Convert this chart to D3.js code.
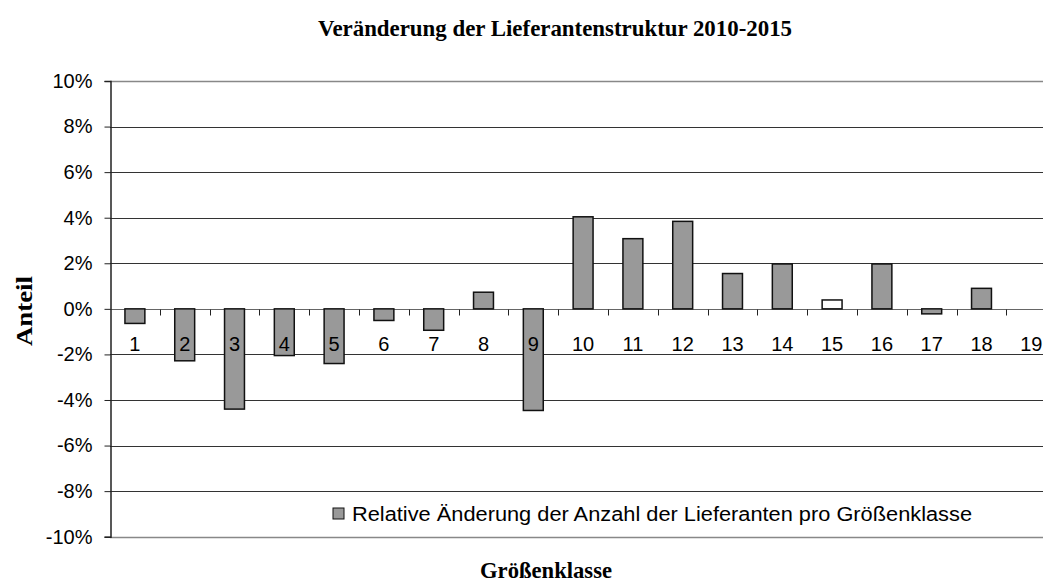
<!DOCTYPE html>
<html>
<head>
<meta charset="utf-8">
<script src="https://cdn.jsdelivr.net/npm/d3@7"></script>
<style>
  body { margin: 0; background: #fff; }
  svg { display: block; }
</style>
</head>
<body>
<script>
// data
var classes = ["1","2","3","4","5","6","7","8","9","10","11","12","13","14","15","16","17","18","19"];
var changes = [-0.64, -2.28, -4.40, -2.05, -2.40, -0.51, -0.94, 0.73, -4.46, 4.04, 3.08, 3.84, 1.55, 1.97, 0.39, 1.97, -0.22, 0.90, 0];
var barFills = ["#999","#999","#999","#999","#999","#999","#999","#999","#999","#999","#999","#999","#999","#999","#fff","#999","#999","#999","#999"];
var yTicks = [-10, -8, -6, -4, -2, 0, 2, 4, 6, 8, 10];

var title = "Veränderung der Lieferantenstruktur 2010-2015";
var xTitle = "Größenklasse";
var yTitle = "Anteil";
var legendLabel = "Relative Änderung der Anzahl der Lieferanten pro Größenklasse";

var W = 1043, H = 587;
var plotLeft = 110, plotTop = 81, plotBottom = 536.7;
var bandW = 49.8;
var sans = "Liberation Sans, Arial, sans-serif";
var serif = "Liberation Serif, Times New Roman, serif";

var svg = d3.select("body").append("svg").attr("width", W).attr("height", H);

var x = d3.scaleBand().domain(classes).range([plotLeft, plotLeft + bandW * classes.length]).paddingInner(0.6).paddingOuter(0.3);
var xb = d3.scaleBand().domain(classes).range([plotLeft, plotLeft + bandW * classes.length]);
var y = d3.scaleLinear().domain([-10, 10]).range([plotBottom, plotTop]);

// gridlines
svg.append("g").selectAll("line").data(yTicks).enter().append("line")
  .attr("x1", plotLeft).attr("x2", W + 20)
  .attr("y1", function (d) { return Math.round(y(d)) + 0.5; })
  .attr("y2", function (d) { return Math.round(y(d)) + 0.5; })
  .attr("stroke", function (d) { return (d === 10 || d === -10) ? "#888" : (d === 0 ? "#666" : "#333"); })
  .attr("stroke-width", function (d) { return (d === 10 || d === -10) ? 1.5 : 1; });

// y axis
var yAxis = svg.append("g").attr("transform", "translate(" + (plotLeft + 0.5) + ",0)")
  .call(d3.axisLeft(y).tickValues(yTicks).tickSize(6).tickPadding(12).tickFormat(function (d) { return d + "%"; }));
yAxis.select(".domain").attr("stroke", "#222").attr("stroke-width", 1.5);
yAxis.selectAll(".tick line").attr("stroke", "#222");
yAxis.selectAll("text").attr("font-family", sans).attr("font-size", 20).attr("fill", "#000");

// bars
svg.append("g").selectAll("rect").data(changes).enter().append("rect")
  .attr("x", function (d, i) { return x(classes[i]); })
  .attr("width", x.bandwidth())
  .attr("y", function (d) { return y(Math.max(0, d)); })
  .attr("height", function (d) { return Math.abs(y(d) - y(0)); })
  .attr("fill", function (d, i) { return barFills[i]; })
  .attr("stroke", function (d) { return d === 0 ? "none" : "#111"; })
  .attr("stroke-width", 1.5);

// category ticks on zero line
var y0 = Math.round(y(0)) + 0.5;
svg.append("g").selectAll("line").data(classes.slice(1)).enter().append("line")
  .attr("x1", function (d) { return Math.round(xb(d)) + 0.5; })
  .attr("x2", function (d) { return Math.round(xb(d)) + 0.5; })
  .attr("y1", y0).attr("y2", y0 + 6)
  .attr("stroke", "#222");

// category labels
svg.append("g").selectAll("text").data(classes).enter().append("text")
  .attr("x", function (d) { return xb(d) + xb.bandwidth() / 2; })
  .attr("y", 351)
  .attr("text-anchor", "middle")
  .attr("font-family", sans)
  .attr("font-size", 20)
  .text(function (d) { return d; });

// titles
svg.append("text").attr("x", 555).attr("y", 36).attr("text-anchor", "middle")
  .attr("font-family", serif).attr("font-weight", "bold").attr("font-size", 24)
  .attr("textLength", 474).attr("lengthAdjust", "spacingAndGlyphs")
  .text(title);
svg.append("text").attr("x", 546).attr("y", 578).attr("text-anchor", "middle")
  .attr("font-family", serif).attr("font-weight", "bold").attr("font-size", 23)
  .attr("textLength", 132).attr("lengthAdjust", "spacingAndGlyphs")
  .text(xTitle);
svg.append("text").attr("transform", "translate(32,311) rotate(-90)").attr("text-anchor", "middle")
  .attr("font-family", serif).attr("font-weight", "bold").attr("font-size", 23)
  .attr("textLength", 70).attr("lengthAdjust", "spacingAndGlyphs")
  .text(yTitle);

// legend
var lg = svg.append("g").attr("transform", "translate(333,508)");
lg.append("rect").attr("width", 11).attr("height", 11).attr("fill", "#999").attr("stroke", "#111");
lg.append("text").attr("x", 19).attr("y", 13)
  .attr("font-family", sans).attr("font-size", 20)
  .attr("textLength", 620).attr("lengthAdjust", "spacingAndGlyphs")
  .text(legendLabel);
</script>
</body>
</html>
